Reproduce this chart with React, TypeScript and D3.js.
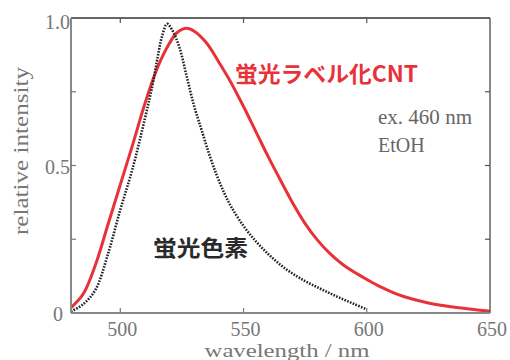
import React from "react";
import * as d3 from "d3";

// fluorescent dye (black dotted)
const dyeNm = [480, 485, 490, 495, 500, 505, 510, 513, 515, 517, 519, 521, 524, 527, 530, 533, 536, 539, 542, 545, 550, 555, 560, 565, 570, 575, 580, 585, 590, 595, 600];
const dyeVal = [0.005, 0.03, 0.08, 0.2, 0.35, 0.49, 0.66, 0.77, 0.86, 0.94, 0.98, 0.96, 0.9, 0.8, 0.7, 0.62, 0.54, 0.47, 0.41, 0.36, 0.295, 0.243, 0.2, 0.163, 0.133, 0.108, 0.087, 0.067, 0.048, 0.03, 0.012];

// labelled CNT (red)
const cntNm = [480, 485, 490, 495, 500, 505, 510, 515, 520, 523, 527, 530, 535, 540, 545, 550, 555, 560, 565, 570, 575, 580, 585, 590, 595, 600, 605, 610, 615, 620, 625, 630, 635, 640, 645, 650];
const cntVal = [0.018, 0.065, 0.165, 0.3, 0.435, 0.57, 0.71, 0.83, 0.915, 0.95, 0.965, 0.955, 0.915, 0.85, 0.78, 0.7, 0.615, 0.53, 0.45, 0.372, 0.303, 0.247, 0.202, 0.166, 0.138, 0.114, 0.091, 0.072, 0.056, 0.044, 0.034, 0.026, 0.02, 0.015, 0.01, 0.006];

const xTicks = [500, 550, 600, 650];
const xMinor = [500, 550, 600];
const yTicks = [0, 0.5, 1];
const yTickLabels = ["0", "0.5", "1.0"];
const yMinor = [0.25, 0.5, 0.75];

export default function App() {
  const W = 510, H = 360;
  const left = 71, right = 490, top = 18, bottom = 313;
  const x = d3.scaleLinear().domain([480, 650]).range([left, right]);
  const y = d3.scaleLinear().domain([0, 1]).range([bottom, top]);

  const line = d3
    .line<[number, number]>()
    .x(d => x(d[0]))
    .y(d => y(d[1]))
    .curve(d3.curveCatmullRom.alpha(0.5));

  const dye = line(dyeNm.map((n, i) => [n, dyeVal[i]] as [number, number]));
  const cnt = line(cntNm.map((n, i) => [n, cntVal[i]] as [number, number]));

  const serif = "'Liberation Serif', 'DejaVu Serif', serif";
  const jp = "'Noto Sans CJK JP', sans-serif";
  const grey = "#777";

  return (
    <svg width={W} height={H} style={{ position: "absolute", left: 0, top: 0, background: "#fff" }}>
      <rect x={0} y={0} width={W} height={H} fill="#fff" />
      <path d={cnt || ""} fill="none" stroke="#e8323a" strokeWidth={3} />
      <path d={dye || ""} fill="none" stroke="#222" strokeWidth={2.6} strokeDasharray="1.6 1.4" />

      {/* frame */}
      <line x1={left} y1={top} x2={right} y2={top} stroke="#333" strokeWidth={1.6} />
      <line x1={right} y1={top} x2={right} y2={bottom} stroke="#555" strokeWidth={1.4} />
      <line x1={left} y1={top} x2={left} y2={bottom} stroke="#888" strokeWidth={2} />
      <line x1={left} y1={bottom} x2={right} y2={bottom} stroke="#888" strokeWidth={2} />

      {xMinor.map(t => (
        <g key={"xt" + t}>
          <line x1={x(t)} x2={x(t)} y1={bottom} y2={bottom - 5} stroke="#777" strokeWidth={1.2} />
          <line x1={x(t)} x2={x(t)} y1={top} y2={top + 5} stroke="#555" strokeWidth={1.2} />
        </g>
      ))}
      {yMinor.map(t => (
        <g key={"yt" + t}>
          <line x1={left} x2={left + 5} y1={y(t)} y2={y(t)} stroke="#777" strokeWidth={1.2} />
          <line x1={right} x2={right - 5} y1={y(t)} y2={y(t)} stroke="#555" strokeWidth={1.2} />
        </g>
      ))}

      {xTicks.map(t => (
        <text key={"xl" + t} x={x(t) + 2} y={336} textAnchor="middle" fontFamily={serif} fontSize={20} fill={grey}>
          {t}
        </text>
      ))}
      {yTicks.map((t, i) => (
        <text key={"yl" + t} x={i === 0 ? 63 : 70} y={y(t) + (i === 2 ? 11 : 8)} textAnchor="end" fontFamily={serif} fontSize={20} fill={grey}>
          {yTickLabels[i]}
        </text>
      ))}

      <text x={287} y={357} textAnchor="middle" fontFamily={serif} fontSize={19} fill={grey} textLength={165} lengthAdjust="spacingAndGlyphs">
        wavelength / nm
      </text>
      <text transform={`translate(28,151) rotate(-90)`} textAnchor="middle" fontFamily={serif} fontSize={21} fill={grey} textLength={168} lengthAdjust="spacingAndGlyphs">
        relative intensity
      </text>

      <text x={235} y={82} fontFamily={jp} fontWeight="bold" fontSize={22} fill="#e8323a" textLength={183} lengthAdjust="spacingAndGlyphs">
        蛍光ラベル化CNT
      </text>
      <text x={378} y={124} fontFamily={serif} fontSize={20} fill="#666" textLength={94} lengthAdjust="spacingAndGlyphs">
        ex. 460 nm
      </text>
      <text x={378} y={152} fontFamily={serif} fontSize={20} fill="#666">
        EtOH
      </text>
      <text x={153} y={256} fontFamily={jp} fontWeight="bold" fontSize={22} fill="#2a2a2a" textLength={95} lengthAdjust="spacingAndGlyphs">
        蛍光色素
      </text>
    </svg>
  );
}
